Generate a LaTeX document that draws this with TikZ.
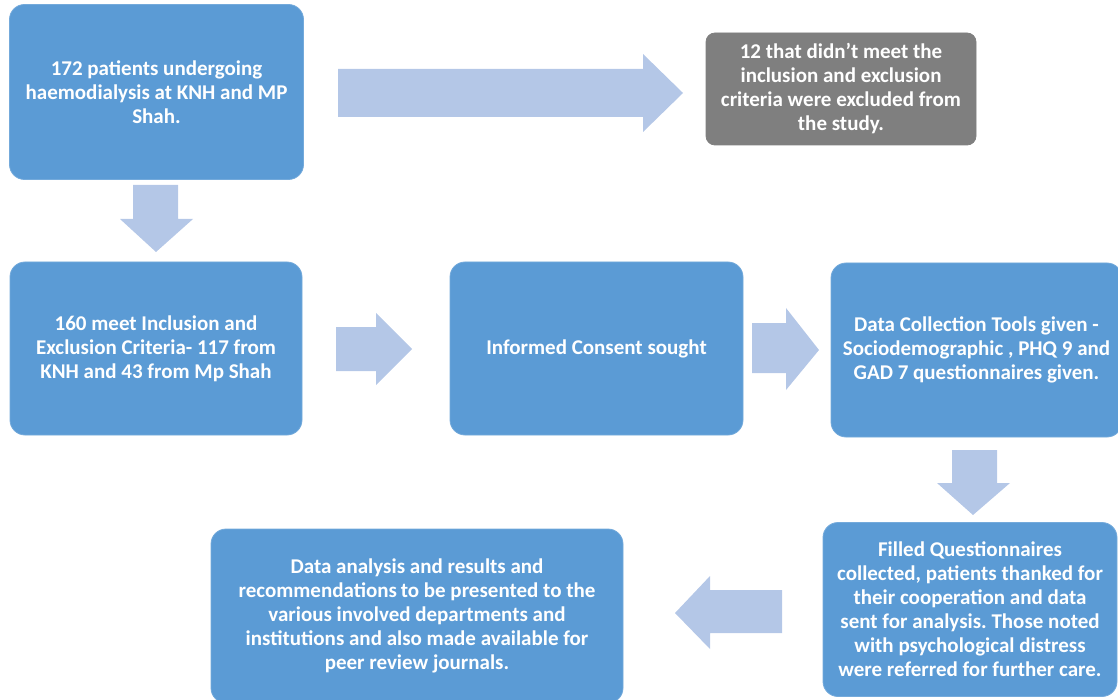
\documentclass[tikz,border=0pt]{standalone}
\usepackage{fontspec}
\setmainfont{Carlito}
\frenchspacing
\definecolor{boxblue}{HTML}{5B9BD5}
\definecolor{arrowblue}{HTML}{B4C7E7}
\definecolor{boxgray}{HTML}{7F7F7F}
\begin{document}
\begin{tikzpicture}[x=1pt,y=-1pt,
  flowbox/.style={fill=boxblue,draw=boxblue!85!white,line width=0.8pt,rounded corners=15pt,inner sep=0pt,
    text=white,align=center,font=\bfseries\fontsize{21}{24}\selectfont},
  graybox/.style={flowbox,fill=boxgray,draw=boxgray,rounded corners=9pt},
  blockarrow/.style={fill=arrowblue,draw=none}]
\useasboundingbox (0,0) rectangle (1118,700);
\clip (0,0) rectangle (1118,700);

\node[flowbox,minimum width=294pt,minimum height=175pt] (start) at (156.5,92)
  {172 patients undergoing\\haemodialysis at KNH and MP\\Shah.};
\node[graybox,minimum width=270pt,minimum height=112pt] (excl) at (841,89)
  {12 that didn’t meet the\\inclusion and exclusion\\criteria were excluded from\\the study.};
\node[flowbox,minimum width=292pt,minimum height=173pt] (meet) at (156,348.5)
  {160 meet Inclusion and\\Exclusion Criteria- 117 from\\KNH and 43 from Mp Shah};
\node[flowbox,minimum width=293pt,minimum height=173pt] (consent) at (596.5,348.5)
  {Informed Consent sought};
\node[flowbox,minimum width=291pt,minimum height=174pt] (tools) at (976.5,350)
  {Data Collection Tools given -\\Sociodemographic , PHQ 9 and\\GAD 7 questionnaires given.};
\node[flowbox,minimum width=294pt,minimum height=174pt] (filled) at (970,609.5)
  {Filled Questionnaires\\collected, patients thanked for\\their cooperation and data\\sent for analysis. Those noted\\with psychological distress\\were referred for further care.};
\node[flowbox,minimum width=412pt,minimum height=174pt] (results) at (417,616)
  {Data analysis and results and\\recommendations\kern-1pt{} to be presented to the\\various involved departments and\\institutions and also made available for\\peer review journals.};

% block arrows
\fill[blockarrow] (338,69) -- (643,69) -- (643,54) -- (683,93) -- (643,132) -- (643,117) -- (338,117) -- cycle;
\fill[blockarrow] (133,185) -- (178,185) -- (178,219) -- (193,219) -- (156,252) -- (120,219) -- (133,219) -- cycle;
\fill[blockarrow] (336,327) -- (376,327) -- (376,313) -- (412,349) -- (376,385) -- (376,371) -- (336,371) -- cycle;
\fill[blockarrow] (752,323) -- (786,323) -- (786,308) -- (819,350) -- (786,390) -- (786,373) -- (752,373) -- cycle;
\fill[blockarrow] (952,450) -- (997,450) -- (997,483) -- (1010,483) -- (973,515) -- (937,483) -- (952,483) -- cycle;
\fill[blockarrow] (782,590) -- (710,590) -- (710,576) -- (675,613) -- (710,649) -- (710,633) -- (782,633) -- cycle;
\end{tikzpicture}
\end{document}
